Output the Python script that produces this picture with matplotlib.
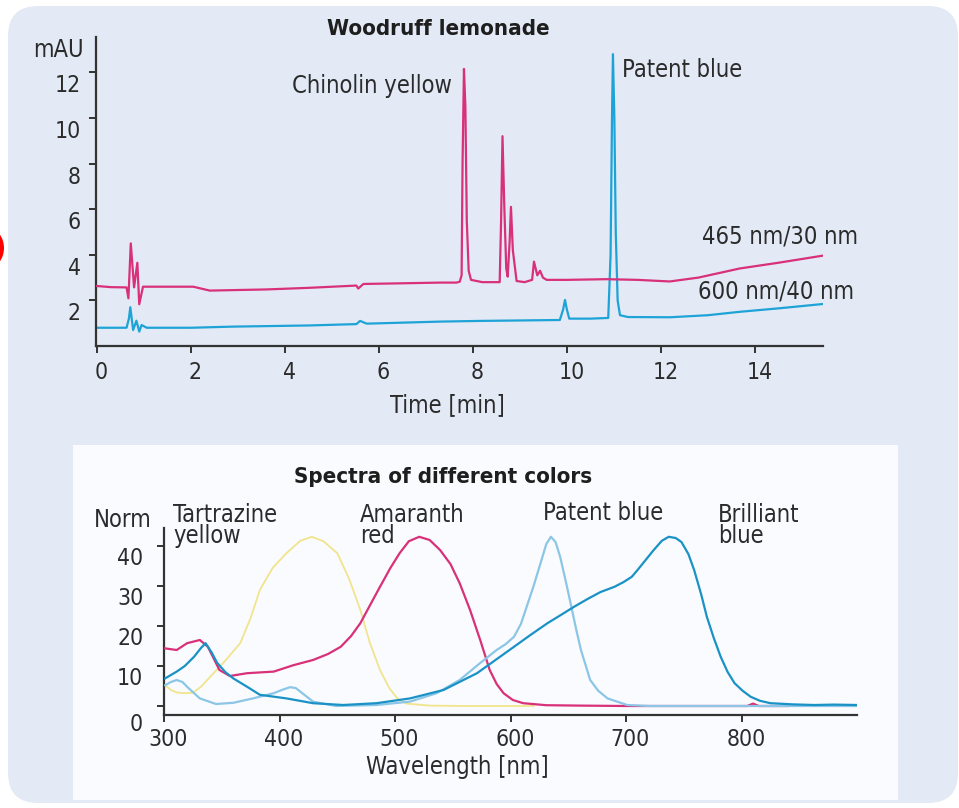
import matplotlib
matplotlib.use('Agg')
import matplotlib.pyplot as plt
import matplotlib.transforms as mtransforms
from matplotlib.patches import FancyBboxPatch, Rectangle, Ellipse

plt.rcParams['font.family'] = ['DejaVu Sans']
plt.rcParams['font.stretch'] = 'condensed'

### Chromatogram (Woodruff lemonade)
t_465 = [0.0, 0.3, 0.63, 0.67, 0.72, 0.79, 0.86, 0.90, 0.98, 1.5, 2.05, 2.4, 3.6, 4.5, 5.52, 5.56, 5.67,
         6.5, 7.3, 7.65, 7.72, 7.76, 7.78, 7.81, 7.84, 7.87, 7.91, 7.96, 8.2, 8.57, 8.60, 8.63, 8.67, 8.71,
         8.74, 8.78, 8.81, 8.85, 8.93, 9.1, 9.26, 9.30, 9.37, 9.43, 9.49, 9.57, 10.0, 10.84, 11.5,
         12.19, 12.8, 13.68, 14.5, 15.44]
v_465 = [2.63, 2.58, 2.57, 2.09, 4.5, 2.57, 3.65, 1.83, 2.6, 2.6, 2.6, 2.43, 2.48, 2.55, 2.65, 2.52, 2.72,
         2.75, 2.78, 2.78, 2.82, 3.1, 8.0, 12.15, 10.5, 5.5, 3.3, 2.9, 2.8, 2.8, 5.5, 9.2, 6.0, 3.4,
         3.04, 4.5, 6.1, 4.2, 2.85, 2.8, 2.9, 3.7, 3.1, 3.3, 3.0, 2.9, 2.9, 2.93, 2.9,
         2.83, 3.0, 3.4, 3.65, 3.96]

t_600 = [0.0, 0.3, 0.63, 0.68, 0.71, 0.77, 0.84, 0.90, 0.95, 1.06, 2.0, 2.9, 4.5, 5.52, 5.6, 5.74,
         7.3, 8.15, 9.0, 9.85, 9.92, 9.96, 10.0, 10.05, 10.5, 10.88, 10.93, 10.96, 10.98, 11.01, 11.04,
         11.08, 11.13, 11.3, 12.19, 13.0, 13.68, 14.5, 15.44]
v_600 = [0.8, 0.8, 0.8, 1.2, 1.7, 0.7, 1.11, 0.63, 0.92, 0.8, 0.8, 0.85, 0.9, 0.96, 1.1, 0.98,
         1.07, 1.1, 1.12, 1.14, 1.6, 2.02, 1.6, 1.2, 1.2, 1.23, 4.0, 10.0, 12.8, 10.0, 5.0,
         2.0, 1.35, 1.27, 1.26, 1.35, 1.5, 1.65, 1.84]

### Spectra of different colors
wl_tartrazine = [301, 306, 311, 317, 325, 332, 340, 352, 366, 375, 383, 394, 406, 418, 428, 438, 450,
                 460, 470, 478, 487, 495, 502, 510, 530, 560, 600, 620]
nm_tartrazine = [5.2, 4.0, 3.4, 3.2, 3.3, 4.8, 7.3, 11.0, 15.7, 22.0, 29.0, 34.5, 38.2, 41.3, 42.3,
                 41.2, 38.2, 32.0, 24.0, 16.0, 9.0, 4.5, 1.9, 0.6, 0.1, 0.0, 0.0, 0.0]

wl_amaranth = [301, 311, 320, 331, 338, 348, 357, 372, 395, 412, 429, 442, 453, 462, 470, 478, 487,
               496, 504, 512, 521, 530, 539, 548, 556, 565, 574, 582, 588, 594, 602, 611, 631, 660,
               700, 760, 805, 810, 815, 840]
nm_amaranth = [14.4, 14.0, 15.7, 16.5, 14.8, 9.0, 7.5, 8.2, 8.6, 10.2, 11.5, 13.0, 14.8, 17.5, 20.7,
               25.0, 29.8, 34.5, 38.2, 41.2, 42.3, 41.5, 39.0, 35.5, 30.7, 24.0, 16.3, 9.0, 5.5, 3.2,
               1.5, 0.7, 0.2, 0.1, 0.0, 0.0, 0.0, 0.6, 0.0, 0.0]

wl_patent = [301, 306, 311, 316, 320, 331, 345, 360, 377, 395, 402, 409, 414, 418, 429, 449, 484,
             513, 536, 556, 574, 588, 596, 603, 609, 614, 620, 626, 631, 635, 639, 643, 648, 652,
             657, 661, 669, 676, 684, 701, 720, 760, 800, 850, 900]
nm_patent = [5.2, 6.0, 6.5, 6.0, 4.8, 1.9, 0.5, 0.8, 1.9, 3.2, 4.0, 4.7, 4.5, 3.6, 1.1, 0.0, 0.25,
             1.1, 3.2, 6.5, 10.8, 14.0, 15.5, 17.3, 20.5, 24.8, 30.0, 35.7, 40.5, 42.3, 41.0, 37.3,
             31.0, 25.7, 19.0, 14.0, 6.5, 3.8, 1.9, 0.25, 0.0, 0.0, 0.0, 0.0, 0.0]

wl_brilliant = [301, 311, 318, 326, 332, 336, 341, 346, 353, 360, 372, 383, 406, 429, 455, 484, 513,
                542, 571, 587, 603, 617, 632, 645, 655, 667, 678, 690, 698, 705, 710, 717, 724, 731,
                737, 743, 748, 754, 759, 765, 770, 776, 782, 788, 794, 801, 808, 816, 825, 845,
                863, 880, 900]
nm_brilliant = [6.9, 8.6, 10.0, 12.3, 14.5, 15.7, 13.5, 10.8, 8.5, 6.9, 4.8, 2.8, 1.9, 0.7, 0.25,
                0.7, 1.9, 4.0, 8.2, 11.5, 14.8, 17.7, 20.7, 23.0, 24.8, 26.8, 28.5, 29.8, 31.0, 32.3,
                34.0, 36.5, 39.0, 41.3, 42.3, 42.0, 41.0, 38.0, 34.0, 28.0, 22.3, 17.0, 12.3, 8.5,
                5.7, 3.8, 2.3, 1.3, 0.7, 0.4, 0.25, 0.35, 0.25]

chrom_labels = ['Chinolin yellow', 'Patent blue', '465 nm/30 nm', '600 nm/40 nm']
spectrum_labels = ['Tartrazine\nyellow', 'Amaranth\nred', 'Patent blue', 'Brilliant\nblue']

PINK = '#d9307a'
BLUE = '#1ea3d6'
DARKBLUE = '#1a92c6'
LIGHTBLUE = '#8cc6e6'
YELLOW = '#f2e48c'
TXT = '#2b2b2b'
AX = '#333333'

W, H = 959, 808
fig = plt.figure(figsize=(W / 100, H / 100), dpi=100)
fig.patch.set_facecolor('white')

# background panels (behind the axes)
fig.patches.append(FancyBboxPatch((0.08, 0.05), 9.5, 7.97, boxstyle='round,pad=0,rounding_size=0.3',
                                  transform=fig.dpi_scale_trans, facecolor='#e3eaf6', edgecolor='none',
                                  zorder=-3))
fig.patches.append(Rectangle((0.73, 0.08), 8.25, 3.55, transform=fig.dpi_scale_trans,
                             facecolor='#f9fbfe', edgecolor='none', zorder=-2))
fig.patches.append(Ellipse((-0.12, 5.6), 0.32, 0.4, transform=fig.dpi_scale_trans,
                           facecolor='#ff0000', edgecolor='none', zorder=-1))


def px_axes(x0, x1, y0, y1):
    # pixel box (left, right, top, bottom) -> axes
    return fig.add_axes([x0 / W, 1 - y1 / H, (x1 - x0) / W, (y1 - y0) / H])


def style_axes(ax, fs, xpad, ypad):
    ax.set_facecolor('none')
    for s in ['top', 'right']:
        ax.spines[s].set_visible(False)
    for s in ['left', 'bottom']:
        ax.spines[s].set_color(AX)
        ax.spines[s].set_linewidth(1.6)
    ax.tick_params(axis='both', direction='out', length=5, width=1.4, color=AX,
                   labelsize=fs, labelcolor=TXT)
    ax.tick_params(axis='x', pad=xpad)
    ax.tick_params(axis='y', pad=ypad)


FS = 17
TFS = 16.5

### Top chart
ax1 = px_axes(96, 823, 37, 346)
ax1.plot(t_465, v_465, color=PINK, lw=1.6, zorder=3)
ax1.plot(t_600, v_600, color=BLUE, lw=1.6, zorder=2)
ax1.set_xlim(-0.02, 15.45)
ax1.set_ylim(0, 13.55)
ax1.set_xticks([0, 2, 4, 6, 8, 10, 12, 14])
ax1.set_yticks([2, 4, 6, 8, 10, 12])
style_axes(ax1, TFS, 6, 6)

ax1.text(7.55, 11.4, chrom_labels[0], ha='right', va='center', fontsize=FS, color=TXT)
ax1.text(11.17, 12.1, chrom_labels[1], ha='left', va='center', fontsize=FS, color=TXT)
ax1.text(16.19, 4.78, chrom_labels[2], ha='right', va='center', fontsize=FS, color=TXT)
ax1.text(16.1, 2.37, chrom_labels[3], ha='right', va='center', fontsize=FS, color=TXT)
ax1.text(-0.28, 12.98, 'mAU', ha='right', va='center', fontsize=FS, color=TXT)

fig.text(438 / W, 1 - 29 / H, 'Woodruff lemonade', ha='center', va='center', fontsize=16,
         fontweight='bold', color='#1e1e1e')
fig.text(447 / W, 1 - 405 / H, 'Time [min]', ha='center', va='center', fontsize=FS, color=TXT)

### Bottom chart
ax2 = px_axes(164, 857, 528, 715)
ax2.plot(wl_tartrazine, nm_tartrazine, color=YELLOW, lw=1.3, zorder=2)
ax2.plot(wl_amaranth, nm_amaranth, color=PINK, lw=1.6, zorder=3)
ax2.plot(wl_patent, nm_patent, color=LIGHTBLUE, lw=1.6, zorder=4)
ax2.plot(wl_brilliant, nm_brilliant, color=DARKBLUE, lw=1.6, zorder=5)
ax2.set_xlim(300, 900)
ax2.set_ylim(-2.25, 44.5)
ax2.set_xticks([300, 400, 500, 600, 700, 800])
ax2.set_yticks([0, 10, 20, 30, 40])
style_axes(ax2, TFS, 4, 10)

ax2.text(307.8, 50.75, spectrum_labels[0], ha='left', va='top', fontsize=FS, color=TXT, linespacing=0.85)
ax2.text(469.7, 50.75, spectrum_labels[1], ha='left', va='top', fontsize=FS, color=TXT, linespacing=0.85)
ax2.text(628, 48.25, spectrum_labels[2], ha='left', va='center', fontsize=FS, color=TXT)
ax2.text(779.7, 50.75, spectrum_labels[3], ha='left', va='top', fontsize=FS, color=TXT, linespacing=0.85)
ax2.text(289.6, 46.5, 'Norm', ha='right', va='center', fontsize=FS, color=TXT)

fig.text(443 / W, 1 - 477 / H, 'Spectra of different colors', ha='center', va='center', fontsize=16,
         fontweight='bold', color='#1e1e1e')
fig.text(457 / W, 1 - 767 / H, 'Wavelength [nm]', ha='center', va='center', fontsize=FS, color=TXT)

# tick labels sit a bit right of / below their ticks
for ax, dy in [(ax1, -0.11), (ax2, -0.10)]:
    for lab in ax.get_yticklabels():
        extra = -0.06 if lab.get_text() == '0' else 0
        lab.set_transform(lab.get_transform() + mtransforms.ScaledTranslation(0, dy + extra, fig.dpi_scale_trans))
    for lab in ax.get_xticklabels():
        lab.set_transform(lab.get_transform() + mtransforms.ScaledTranslation(0.045, 0, fig.dpi_scale_trans))

fig.savefig('out.png', dpi=100)
